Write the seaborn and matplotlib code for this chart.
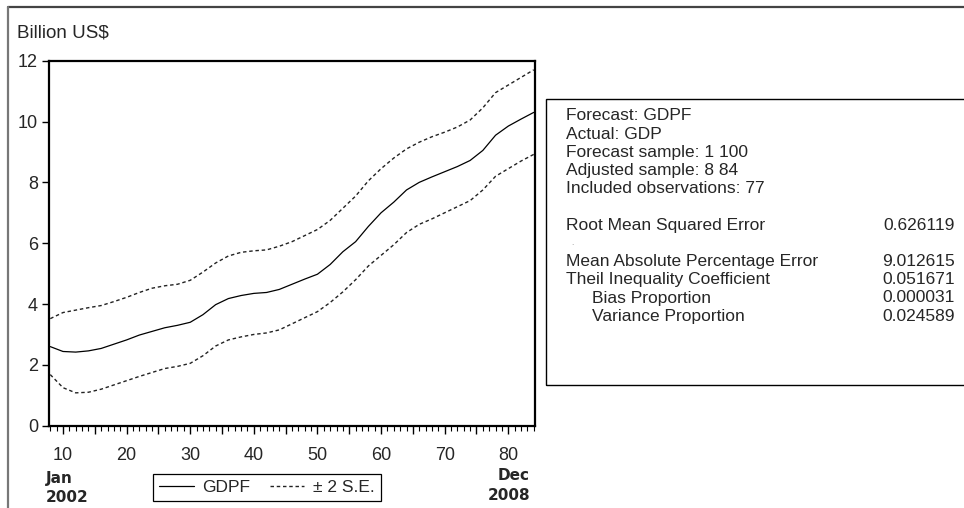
import numpy as np
import pandas as pd
import matplotlib
matplotlib.use('Agg')
import matplotlib.pyplot as plt
import seaborn as sns
from matplotlib.ticker import MultipleLocator, FuncFormatter
from matplotlib.lines import Line2D
from matplotlib.patches import Rectangle

sns.set_style('white')
plt.rcParams['font.family'] = ['Liberation Sans', 'DejaVu Sans']

# Observations (forecast sample, every 2nd obs)
obs = list(range(8, 85, 2))
gdpf = [2.60, 2.44, 2.42, 2.46, 2.54, 2.68, 2.82, 2.98, 3.10, 3.22,
        3.30, 3.40, 3.65, 3.98, 4.18, 4.28, 4.35, 4.38, 4.48, 4.65,
        4.82, 4.98, 5.30, 5.72, 6.05, 6.55, 7.00, 7.35, 7.75, 8.00,
        8.18, 8.35, 8.52, 8.72, 9.05, 9.55, 9.85, 10.08, 10.30]
upper = [3.52, 3.72, 3.80, 3.88, 3.95, 4.08, 4.22, 4.38, 4.52, 4.60,
         4.65, 4.78, 5.05, 5.35, 5.58, 5.70, 5.75, 5.78, 5.90, 6.05,
         6.25, 6.45, 6.75, 7.15, 7.55, 8.05, 8.45, 8.80, 9.10, 9.32,
         9.50, 9.65, 9.82, 10.05, 10.45, 10.95, 11.20, 11.45, 11.70]
lower = [1.68, 1.25, 1.08, 1.10, 1.20, 1.34, 1.48, 1.62, 1.75, 1.88,
         1.95, 2.05, 2.30, 2.62, 2.82, 2.92, 3.00, 3.05, 3.15, 3.35,
         3.55, 3.75, 4.05, 4.40, 4.80, 5.25, 5.60, 5.95, 6.35, 6.62,
         6.80, 7.00, 7.20, 7.40, 7.75, 8.20, 8.45, 8.70, 8.92]

stat_labels = ['Forecast: GDPF', 'Actual: GDP', 'Forecast sample: 1 100',
               'Adjusted sample: 8 84', 'Included observations: 77', '',
               'Root Mean Squared Error', '.',
               'Mean Absolute Percentage Error', 'Theil Inequality Coefficient',
               'Bias Proportion', 'Variance Proportion']
stat_values = ['', '', '', '', '', '', '0.626119', '', '9.012615',
               '0.051671', '0.000031', '0.024589']
indented = {'Bias Proportion', 'Variance Proportion'}

W, H = 964, 508


def fx(px):
    return px / W


def fy(py):
    return 1 - py / H


fig = plt.figure(figsize=(W / 100, H / 100), dpi=100)
ax = fig.add_axes([fx(49), fy(425.7), 486 / W, 365 / H])

df = pd.DataFrame({'obs': obs, 'GDPF': gdpf, 'upper': upper, 'lower': lower})
dash = (0, (2.5, 2))
sns.lineplot(data=df, x='obs', y='GDPF', color='black', lw=0.9, ax=ax,
             label='GDPF')
sns.lineplot(data=df, x='obs', y='upper', color='#222222', lw=1.0,
             linestyle=dash, ax=ax, label='± 2 S.E.')
sns.lineplot(data=df, x='obs', y='lower', color='#222222', lw=1.0,
             linestyle=dash, ax=ax, legend=False)

ax.set_xlim(7.8, 84.2)
ax.set_ylim(0, 12)
ax.set_xlabel('')
ax.set_ylabel('')

ax.xaxis.set_major_locator(MultipleLocator(5))
ax.xaxis.set_minor_locator(MultipleLocator(1))
ax.xaxis.set_major_formatter(FuncFormatter(lambda v, _: f'{int(v)}' if v % 10 == 0 else ''))
ax.yaxis.set_major_locator(MultipleLocator(2))

ax.tick_params(axis='x', which='major', bottom=True, direction='out',
               length=6, width=1, labelsize=13, pad=9, color='black')
ax.tick_params(axis='x', which='minor', bottom=True, direction='out',
               length=3.5, width=0.8, color='black')
ax.tick_params(axis='y', which='major', left=True, direction='out',
               length=5, width=1, labelsize=13, pad=3, color='black')

for s in ax.spines.values():
    s.set_color('black')
    s.set_linewidth(1.6)

# legend under the axis
leg = ax.legend(loc='center', bbox_to_anchor=(fx(267), fy(487.5)),
                bbox_transform=fig.transFigure, ncol=2, fontsize=12.5,
                frameon=True, fancybox=False, framealpha=1, edgecolor='black',
                borderpad=0.35, handlelength=2.0, handletextpad=0.5,
                columnspacing=1.1, borderaxespad=0)
leg.get_frame().set_linewidth(0.9)

# axis captions
fig.text(fx(17), fy(33), 'Billion US$', fontsize=13.5, ha='left', va='center')
fig.text(fx(46), fy(478), 'Jan', fontsize=11, fontweight='bold',
         family='DejaVu Sans', ha='left', va='center')
fig.text(fx(46), fy(497), '2002', fontsize=11, fontweight='bold',
         family='DejaVu Sans', ha='left', va='center')
fig.text(fx(530), fy(476), 'Dec', fontsize=11, fontweight='bold',
         family='DejaVu Sans', ha='right', va='center')
fig.text(fx(530), fy(495), '2008', fontsize=11, fontweight='bold',
         family='DejaVu Sans', ha='right', va='center')

# statistics box
fig.add_artist(Rectangle((fx(546), fy(385)), fx(980) - fx(546), fy(99) - fy(385),
                         transform=fig.transFigure, fill=False,
                         edgecolor='black', lw=1.0, clip_on=False))
for i, (lab, val) in enumerate(zip(stat_labels, stat_values)):
    y = fy(116 + i * 18.2)
    if lab == '.':
        fig.text(fx(571), y, '.', fontsize=6, color='#888888', va='center')
        continue
    x0 = 592 if lab in indented else 566
    fig.text(fx(x0), y, lab, fontsize=12.5, ha='left', va='center')
    if val:
        fig.text(fx(955), y, val, fontsize=12.5, ha='right', va='center')

# outer frame (clipped window edges)
fig.add_artist(Line2D([fx(8), fx(970)], [fy(7), fy(7)], transform=fig.transFigure,
                      color='#444444', lw=1.6))
fig.add_artist(Line2D([fx(8), fx(8)], [fy(7), fy(520)], transform=fig.transFigure,
                      color='#777777', lw=1.6))

fig.savefig('out.png', dpi=100)
